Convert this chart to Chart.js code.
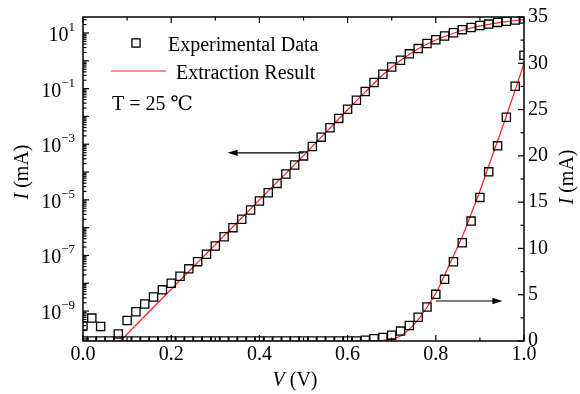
<!DOCTYPE html>
<html>
<head>
<meta charset="utf-8">
<script src="https://cdn.jsdelivr.net/npm/chart.js@4.4.0/dist/chart.umd.min.js"></script>
<style>
  body { margin: 0; background: #fff; }
  #wrap { width: 580px; height: 394px; }
</style>
</head>
<body>
<div id="wrap"><canvas id="ivChart" width="580" height="394"></canvas></div>
<script>
// bias voltage (V), one measurement every 0.02 V
const voltage = [0.00, 0.02, 0.04, 0.06, 0.08, 0.10, 0.12, 0.14, 0.16, 0.18,
  0.20, 0.22, 0.24, 0.26, 0.28, 0.30, 0.32, 0.34, 0.36, 0.38,
  0.40, 0.42, 0.44, 0.46, 0.48, 0.50, 0.52, 0.54, 0.56, 0.58,
  0.60, 0.62, 0.64, 0.66, 0.68, 0.70, 0.72, 0.74, 0.76, 0.78,
  0.80, 0.82, 0.84, 0.86, 0.88, 0.90, 0.92, 0.94, 0.96, 0.98, 1.00];

// measured current (mA) as read on the log axis (left)
const expCurrentLog = [2.95e-10, 5.6e-10, 2.8e-10, 5e-11, 1.5e-10, 4.6e-10, 9.5e-10, 1.8e-9, 3.2e-9, 5.8e-9,
  1.0e-8, 1.8e-8, 3.3e-8, 6.0e-8, 1.1e-7, 2.2e-7, 4.7e-7, 1.0e-6, 2.0e-6, 4.3e-6,
  9.1e-6, 1.8e-5, 3.9e-5, 8.5e-5, 1.8e-4, 3.8e-4, 8.3e-4, 1.8e-3, 3.9e-3, 8.5e-3,
  0.018, 0.038, 0.079, 0.166, 0.33, 0.60, 1.05, 1.78, 2.75, 4.2,
  5.75, 7.8, 10.2, 13.2, 15.8, 18.6, 20.9, 24.0, 26.3, 29.5, 31.6];

// measured current (mA) as read on the linear axis (right)
const expCurrentLin = [0, 0, 0, 0, 0, 0, 0, 0, 0, 0,
  0, 0, 0, 0, 0, 0, 0, 0, 0, 0,
  0, 0, 0, 0, 0, 0, 0, 0, 0, 0,
  0, 0, 0.08, 0.25, 0.38, 0.63, 1.07, 1.68, 2.56, 3.67,
  5.04, 6.66, 8.56, 10.61, 12.95, 15.51, 18.27, 21.08, 24.17, 27.52, 30.87];

// extraction result, log view
const fitVoltageLog = [0.08, 0.40, 0.50, 0.56, 0.60, 0.64, 0.68, 0.72, 0.76, 0.80, 0.84, 0.88, 0.92, 0.96, 1.00];
const fitCurrentLog = [7.1e-11, 1.0e-5, 3.9e-4, 3.8e-3, 0.0174, 0.076, 0.316, 1.02, 2.69, 5.6, 9.8, 15.1, 20.4, 25.7, 30.2];

// extraction result, linear view
const fitVoltageLin = [0.00, 0.60, 0.64, 0.66, 0.68, 0.70, 0.72, 0.74, 0.76, 0.78, 0.80,
  0.82, 0.84, 0.86, 0.88, 0.90, 0.92, 0.94, 0.96, 0.98, 1.00];
const fitCurrentLin = [0, 0, 0.01, 0.03, 0.08, 0.2, 0.55, 1.25, 2.3, 3.65, 5.15,
  7.1, 9.2, 11.3, 13.7, 16.2, 18.9, 21.6, 24.3, 27.1, 30.0];

// axis ticks
const xMajor = [0, 0.2, 0.4, 0.6, 0.8, 1.0];
const xMinor = [0.1, 0.3, 0.5, 0.7, 0.9];
const xLabels = ["0.0", "0.2", "0.4", "0.6", "0.8", "1.0"];
const logDecades = [-10, -9, -8, -7, -6, -5, -4, -3, -2, -1, 0, 1];
const logLabelExp = [1, -1, -3, -5, -7, -9];
const linMajor = [0, 5, 10, 15, 20, 25, 30, 35];
const linMinor = [2.5, 7.5, 12.5, 17.5, 22.5, 27.5, 32.5];

// arrows: [fromV, toV, current]
const arrowLog = [0.50, 0.328, 4.9e-4];
const arrowLin = [0.80, 0.951, 4.32];

const SERIF = '"Liberation Serif", "Times New Roman", "DejaVu Serif", serif';
const RED = "#ff2020";

const toPoints = (xs, ys) => xs.map((v, i) => ({ x: v, y: ys[i] }));

const squareStyle = {
  showLine: false,
  pointStyle: "rect",
  pointRadius: 5.8,
  pointHoverRadius: 5.8,
  pointBorderWidth: 1.3,
  pointBorderColor: "#000",
  pointBackgroundColor: "rgba(0,0,0,0)",
  clip: 0,
};

const lineStyle = {
  borderColor: RED,
  borderWidth: 1.2,
  pointRadius: 0,
  cubicInterpolationMode: "monotone",
  clip: 0,
};

const decor = {
  id: "decor",
  afterDraw(chart) {
    const { ctx, chartArea: a, scales } = chart;
    const x = scales.x, yl = scales.yLog, yr = scales.yLin;
    const seg = (x1, y1, x2, y2) => {
      ctx.beginPath();
      ctx.moveTo(x1, y1);
      ctx.lineTo(x2, y2);
      ctx.stroke();
    };
    ctx.save();
    ctx.strokeStyle = "#000";
    ctx.fillStyle = "#000";

    // frame
    ctx.lineWidth = 1.5;
    ctx.strokeRect(a.left, a.top, a.right - a.left, a.bottom - a.top);

    // inward ticks
    ctx.lineWidth = 1.2;
    xMajor.forEach((v) => {
      const px = x.getPixelForValue(v);
      seg(px, a.bottom, px, a.bottom - 6);
      seg(px, a.top, px, a.top + 6);
    });
    xMinor.forEach((v) => {
      const px = x.getPixelForValue(v);
      seg(px, a.bottom, px, a.bottom - 3.5);
      seg(px, a.top, px, a.top + 3.5);
    });
    logDecades.forEach((k) => {
      const base = Math.pow(10, k);
      if (base >= yl.min && base <= yl.max) {
        const py = yl.getPixelForValue(base);
        seg(a.left, py, a.left + 6, py);
      }
      for (let m = 2; m <= 9; m++) {
        const v = m * base;
        if (v < yl.min || v > yl.max) continue;
        const py = yl.getPixelForValue(v);
        seg(a.left, py, a.left + 3.5, py);
      }
    });
    linMajor.forEach((v) => {
      const py = yr.getPixelForValue(v);
      seg(a.right, py, a.right - 6, py);
    });
    linMinor.forEach((v) => {
      const py = yr.getPixelForValue(v);
      seg(a.right, py, a.right - 3.5, py);
    });

    // tick labels
    ctx.font = "20px " + SERIF;
    ctx.textAlign = "center";
    ctx.textBaseline = "middle";
    xMajor.forEach((v, i) => {
      ctx.fillText(xLabels[i], x.getPixelForValue(v), a.bottom + 14);
    });
    ctx.textAlign = "left";
    linMajor.forEach((v) => {
      ctx.fillText(String(v), a.right + 4, yr.getPixelForValue(v));
    });
    logLabelExp.forEach((k) => {
      const py = yl.getPixelForValue(Math.pow(10, k));
      const expText = k < 0 ? "\u2212" + Math.abs(k) : String(k);
      ctx.font = "13px " + SERIF;
      ctx.textAlign = "right";
      ctx.textBaseline = "alphabetic";
      const ew = ctx.measureText(expText).width;
      ctx.fillText(expText, a.left - 8, py - 2);
      ctx.font = "20px " + SERIF;
      ctx.fillText("10", a.left - 8 - ew, py + 8);
    });

    // axis titles
    const title = (cx, cy, rot, first, rest) => {
      ctx.save();
      ctx.translate(cx, cy);
      ctx.rotate(rot);
      ctx.textBaseline = "middle";
      ctx.textAlign = "left";
      ctx.font = "italic 20px " + SERIF;
      const w1 = ctx.measureText(first).width;
      ctx.font = "20px " + SERIF;
      const w2 = ctx.measureText(rest).width;
      const start = -(w1 + w2) / 2;
      ctx.font = "italic 20px " + SERIF;
      ctx.fillText(first, start, 0);
      ctx.font = "20px " + SERIF;
      ctx.fillText(rest, start + w1, 0);
      ctx.restore();
    };
    title(23, 172, -Math.PI / 2, "I", " (mA)");
    title(568, 177, -Math.PI / 2, "I", " (mA)");
    title(295, 381, 0, "V", " (V)");

    // legend
    ctx.lineWidth = 1.3;
    ctx.strokeRect(136 - 4.1, 43 - 4.1, 8.2, 8.2);
    ctx.strokeStyle = RED;
    ctx.lineWidth = 1.2;
    seg(111, 71, 166, 71);
    ctx.font = "20px " + SERIF;
    ctx.textAlign = "left";
    ctx.textBaseline = "alphabetic";
    ctx.fillText("Experimental Data", 168, 51);
    ctx.fillText("Extraction Result", 176, 79);
    ctx.fillText("T = 25 \u2103", 112, 110);

    // arrows
    const arrow = (x1, x2, py) => {
      ctx.strokeStyle = "#000";
      ctx.lineWidth = 1.2;
      const dir = Math.sign(x2 - x1);
      seg(x1, py, x2 - dir * 6, py);
      ctx.beginPath();
      ctx.moveTo(x2, py);
      ctx.lineTo(x2 - dir * 10, py - 3.2);
      ctx.lineTo(x2 - dir * 10, py + 3.2);
      ctx.closePath();
      ctx.fill();
    };
    arrow(x.getPixelForValue(arrowLog[0]), x.getPixelForValue(arrowLog[1]), yl.getPixelForValue(arrowLog[2]));
    arrow(x.getPixelForValue(arrowLin[0]), x.getPixelForValue(arrowLin[1]), yr.getPixelForValue(arrowLin[2]));

    ctx.restore();
  },
};

new Chart(document.getElementById("ivChart"), {
  type: "scatter",
  data: {
    datasets: [
      { label: "Experimental Data", data: toPoints(voltage, expCurrentLog), yAxisID: "yLog", ...squareStyle },
      { label: "Experimental Data (linear)", data: toPoints(voltage, expCurrentLin), yAxisID: "yLin", ...squareStyle },
      { label: "Extraction Result", data: toPoints(fitVoltageLog, fitCurrentLog), yAxisID: "yLog", showLine: true, ...lineStyle },
      { label: "Extraction Result (linear)", data: toPoints(fitVoltageLin, fitCurrentLin), yAxisID: "yLin", showLine: true, ...lineStyle },
    ],
  },
  options: {
    responsive: false,
    animation: false,
    layout: { padding: { left: 83, right: 56, top: 17, bottom: 53 } },
    scales: {
      x: { type: "linear", min: 0, max: 1, display: false },
      yLog: { type: "logarithmic", position: "left", min: 8.4e-11, max: 37.6, display: false },
      yLin: { type: "linear", position: "right", min: 0, max: 35, display: false },
    },
    plugins: {
      legend: { display: false },
      tooltip: { enabled: false },
    },
  },
  plugins: [decor],
});
</script>
</body>
</html>
